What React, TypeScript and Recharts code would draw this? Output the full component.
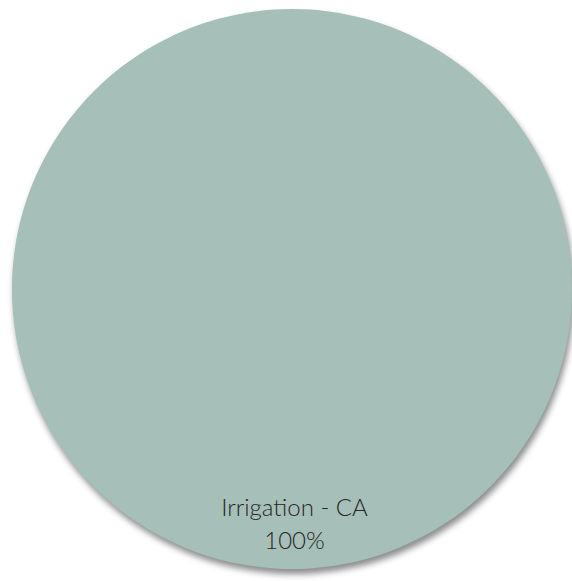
import { Cell, Pie, PieChart } from "recharts";

const categories = ["Irrigation - CA"];
const shares = [100];
const sliceColors = ["#A6BFB8"];

const data = categories.map((name, i) => ({ name, value: shares[i] }));
const total = shares.reduce((a, b) => a + b, 0);

const renderLabel = (props: any) => {
    const { cx, cy, name, value } = props;
    const pct = Math.round((value / total) * 100) + "%";
    return (
        <text
            x={cx + 2.5}
            y={cy + 227}
            textAnchor="middle"
            fill="#262626"
            fontFamily="Lato, 'Open Sans', sans-serif"
            fontWeight={300}
            fontSize={24}
        >
            <tspan x={cx + 2.5}>{name}</tspan>
            <tspan x={cx + 2.5} dy={33}>
                {pct}
            </tspan>
        </text>
    );
};

export default function App() {
    return (
        <div style={{ position: "absolute", left: 0, top: 0, width: 572, height: 581, background: "#fff" }}>
            <PieChart width={572} height={581} margin={{ top: 0, right: 0, bottom: 0, left: 0 }}>
                <Pie
                    data={data}
                    dataKey="value"
                    nameKey="name"
                    cx={292}
                    cy={289}
                    outerRadius={280}
                    startAngle={90}
                    endAngle={-270}
                    stroke="none"
                    label={renderLabel}
                    labelLine={false}
                    isAnimationActive={false}
                >
                    {data.map((d, i) => (
                        <Cell
                            key={d.name}
                            fill={sliceColors[i]}
                            style={{ filter: "drop-shadow(2px 5px 3px rgba(0,0,0,0.45))" }}
                        />
                    ))}
                </Pie>
            </PieChart>
        </div>
    );
}
